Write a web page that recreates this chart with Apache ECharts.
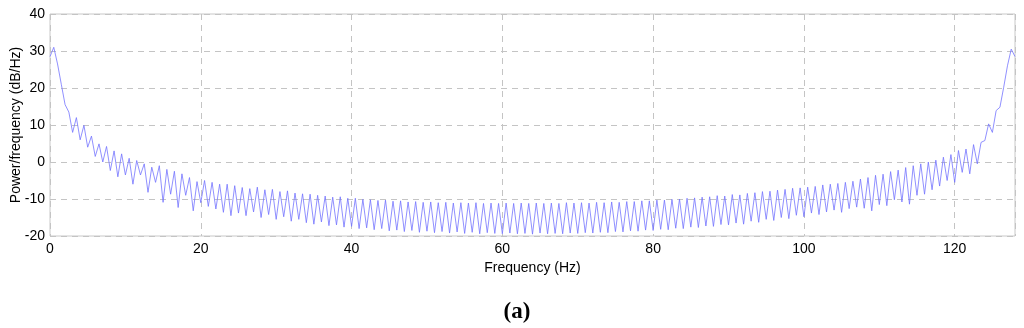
<!DOCTYPE html>
<html>
<head>
<meta charset="utf-8">
<script src="https://cdn.jsdelivr.net/npm/echarts@6/dist/echarts.min.js"></script>
<style>
html,body{margin:0;padding:0;background:#fff;}
#c{width:1024px;height:328px;}
</style>
</head>
<body>
<div id="c"></div>
<script>
// Frequency resolution of the spectrum (Hz per sample)
var freqStep = 0.5;
var xTicks = [0, 20, 40, 60, 80, 100, 120];
var yTicks = [-20, -10, 0, 10, 20, 30, 40];
// Power spectral density values (dB/Hz), one per freqStep from 0 to 128 Hz
var psd = [
  28.5, 31, 26.5, 21, 15.5, 13.5, 8, 12, 6, 9.9, 4, 7, 1.5, 4.9, 0, 4.2, -2.3, 3, -4, 2.2,
  -3.5, 1, -6, 0.4, -3.5, -0.5, -8.2, -1.4, -5.5, -1, -10.9, -2, -8.7, -2.5, -12.3, -3.2, -9, -4.2, -13.2, -5.3,
  -11, -5, -12, -5.5, -12.7, -6, -13.6, -6, -14.5, -6.4, -13.8, -6.9, -14.5, -7.2, -13.5, -6.8, -15, -7.5, -14.2, -7.4,
  -15.5, -8, -14.8, -7.8, -16, -8.4, -15.5, -8.6, -16.4, -8.7, -16.8, -9, -16.2, -9.2, -17.2, -9.5, -17, -9.4, -17.6, -9.8,
  -17.4, -9.8, -18, -10.1, -17.8, -10.2, -18.3, -10.4, -18, -10.3, -18.6, -10.6, -18.4, -10.5, -18.8, -10.8, -18.5, -10.7, -19, -10.9,
  -18.7, -10.8, -19.1, -11, -18.8, -10.9, -19.2, -11.1, -18.9, -11, -19.3, -11.1, -19, -11, -19.4, -11.2, -19.1, -11.1, -19.3, -11.2,
  -19.4, -11.1, -19.2, -11.2, -19.4, -11.1, -19.3, -11.2, -19.5, -11.1, -19.2, -11.2, -19.4, -11.1, -19.3, -11.2, -19.4, -11, -19.2, -11.1,
  -19.3, -11, -19.1, -11.1, -19.2, -10.9, -19, -11, -19.1, -10.8, -18.8, -10.9, -18.9, -10.7, -18.6, -10.7, -18.7, -10.5, -18.4, -10.5,
  -18.5, -10.3, -18.2, -10.3, -18.3, -10.1, -17.9, -10, -18, -9.8, -17.6, -9.7, -17.7, -9.5, -17.3, -9.4, -17.4, -9.1, -16.9, -9.2,
  -17, -8.8, -16.5, -8.9, -16.8, -8.5, -16, -8.3, -16.3, -8, -15.5, -7.9, -15.8, -7.6, -15, -7.4, -15.3, -7.1, -14.4, -7,
  -14.8, -6.8, -13.8, -6.6, -14.2, -6.2, -13.5, -6, -13, -5.8, -13.6, -5.5, -12.6, -5.2, -12.2, -4.6, -12.5, -4.2, -13.2, -3.6,
  -11.5, -3.3, -11.8, -2.6, -10.2, -2.2, -10.8, -1.5, -11.4, -1, -9, -0.5, -8.7, 0, -7.5, 0.5, -6.5, 1.3, -5, 2,
  -5.5, 3.1, -2.8, 3.5, -3.2, 4.7, -0.5, 5.3, 5.8, 10.3, 8, 13.9, 14.8, 20.2, 26, 30.5, 28.5
];
var xTitle = 'Frequency (Hz)';
var yTitle = 'Power/frequency (dB/Hz)';
var caption = '(a)';

var seriesData = psd.map(function (v, i) { return [i * freqStep, v]; });

var chart = echarts.init(document.getElementById('c'), null, {renderer: 'canvas'});
var font = 'Liberation Sans, Arial, sans-serif';
chart.setOption({
  animation: false,
  backgroundColor: '#ffffff',
  title: {
    text: caption,
    left: 512, top: 296,
    textAlign: 'center',
    textStyle: {fontFamily: 'Liberation Serif, DejaVu Serif, serif', fontWeight: 'bold', fontSize: 23, color: '#000'}
  },
  grid: {left: 50, right: 9, top: 14, bottom: 92, outerBoundsMode: 'none', containLabel: false,
    show: true, borderColor: '#c8c8c8', borderWidth: 1, backgroundColor: '#fff'},
  xAxis: {
    type: 'value', min: 0, max: 128, interval: 20,
    name: xTitle, nameLocation: 'middle', nameGap: 25, nameMoveOverlap: false,
    nameTextStyle: {fontFamily: font, fontSize: 14, color: '#000'},
    axisLine: {show: false},
    axisTick: {show: false},
    axisLabel: {fontFamily: font, fontSize: 14, color: '#000', margin: 6,
      formatter: function (v) { return xTicks.indexOf(v) >= 0 ? String(v) : ''; }},
    splitLine: {show: true, lineStyle: {color: '#c4c4c4', type: [6, 5], width: 1}}
  },
  yAxis: {
    type: 'value', min: -20, max: 40, interval: 10,
    name: yTitle, nameLocation: 'middle', nameGap: 27, nameMoveOverlap: false,
    nameTextStyle: {fontFamily: font, fontSize: 14, color: '#000'},
    axisLine: {show: false},
    axisTick: {show: false},
    axisLabel: {fontFamily: font, fontSize: 14, color: '#000', margin: 5,
      formatter: function (v) { return yTicks.indexOf(v) >= 0 ? String(v) : ''; }},
    splitLine: {show: true, lineStyle: {color: '#c4c4c4', type: [6, 5], width: 1}}
  },
  series: [{
    type: 'line',
    data: seriesData,
    showSymbol: false,
    symbol: 'none',
    lineStyle: {color: '#7373ff', width: 0.8},
    z: 3
  }]
});
</script>
</body>
</html>
